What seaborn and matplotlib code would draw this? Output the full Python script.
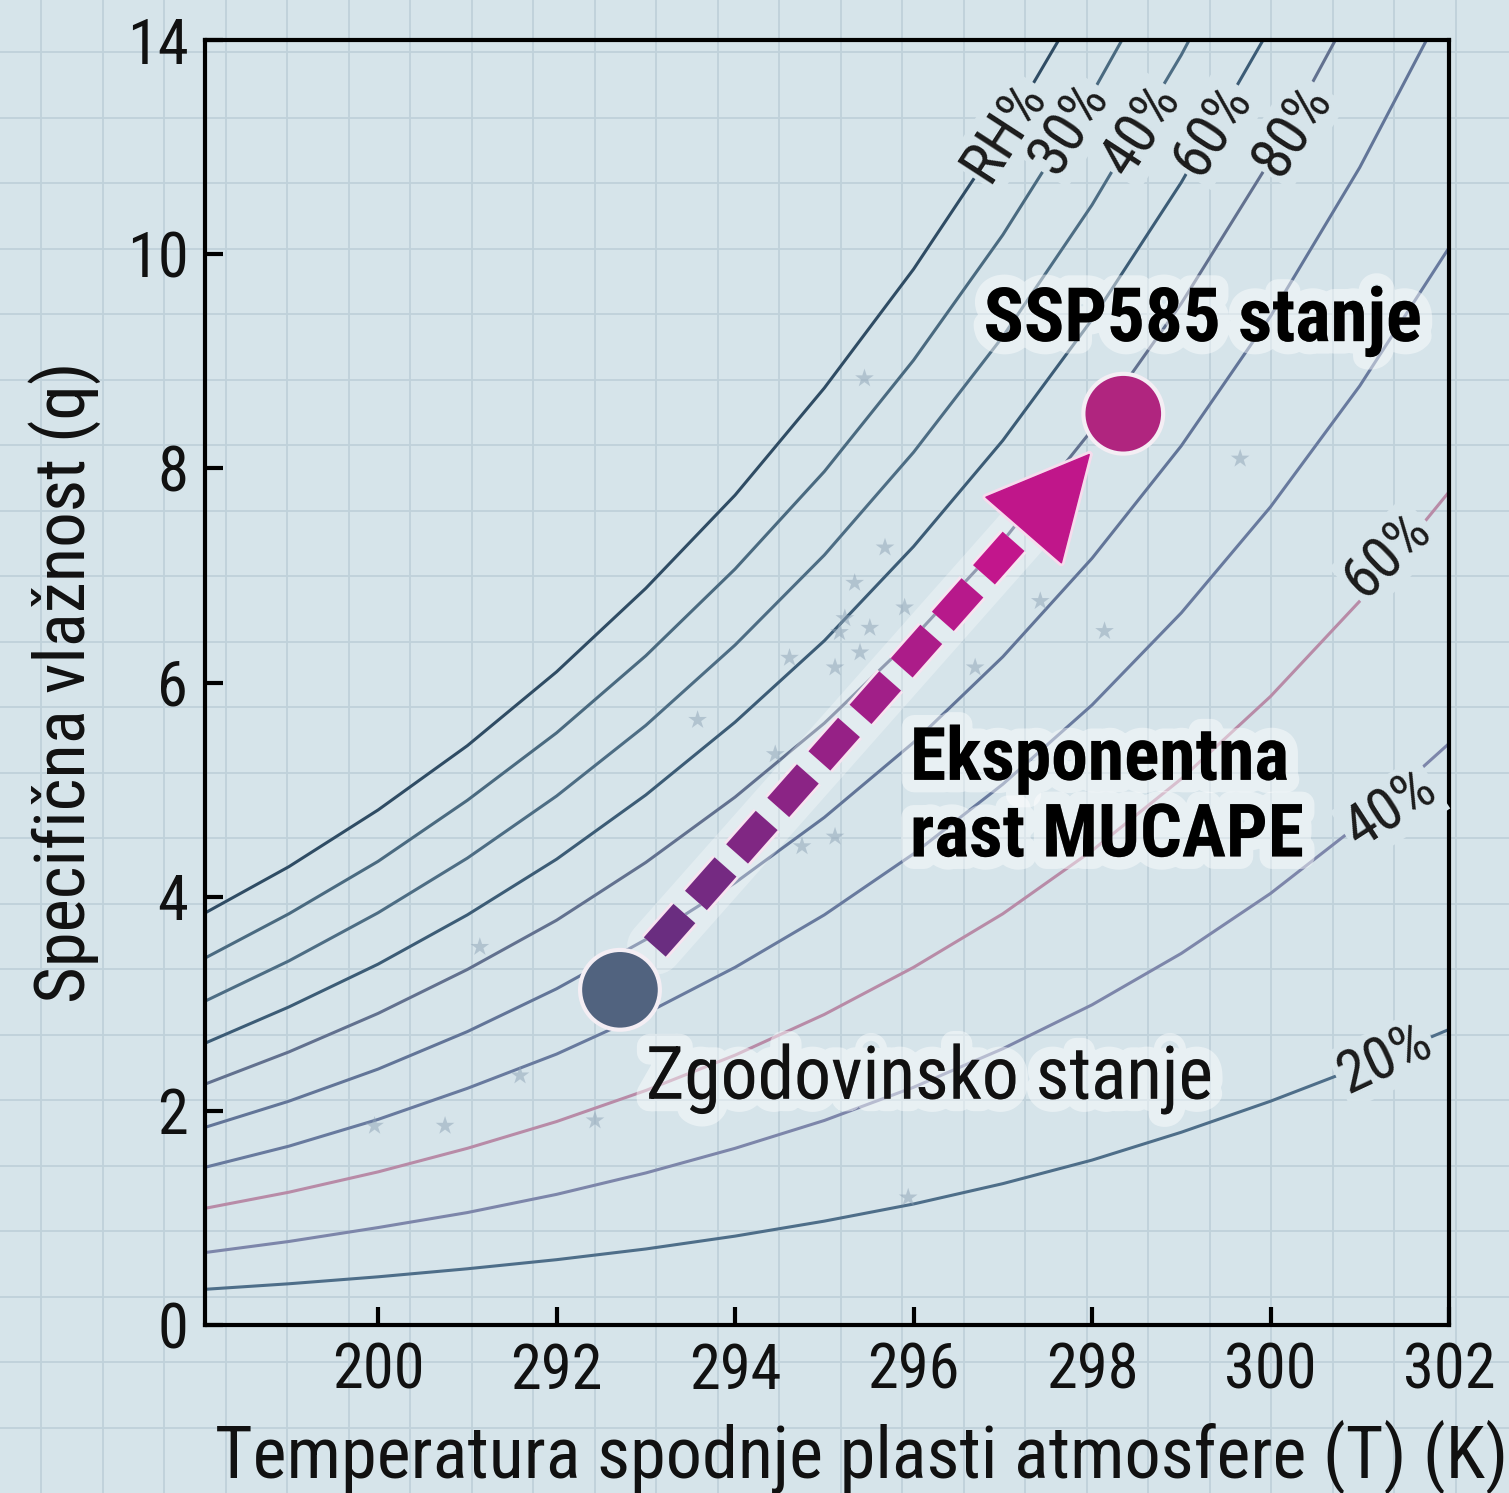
import numpy as np
import pandas as pd
import matplotlib
matplotlib.use("Agg")
import matplotlib.pyplot as plt
import matplotlib.patheffects as pe
from matplotlib import font_manager
from matplotlib.colors import LinearSegmentedColormap
import seaborn as sns

# temperature grid (K) on which the humidity curves were read
T_GRID = [288, 289, 290, 291, 292, 293, 294, 295, 296, 297, 298, 299, 300, 301, 302]

# specific humidity along each curve (top to bottom)
Q_A = [3.82, 4.28, 4.81, 5.41, 6.10, 6.88, 7.75, 8.75, 9.86, 11.11, 12.53]
Q_B = [3.40, 3.84, 4.33, 4.90, 5.53, 6.25, 7.06, 7.97, 9.01, 10.18, 11.50, 12.99]
Q_C = [3.00, 3.40, 3.85, 4.36, 4.94, 5.60, 6.35, 7.19, 8.15, 9.23, 10.46, 11.86, 13.43]
Q_D = [2.61, 2.97, 3.37, 3.83, 4.35, 4.95, 5.63, 6.39, 7.27, 8.26, 9.39, 10.67, 12.12]
Q_E = [2.23, 2.55, 2.91, 3.32, 3.78, 4.32, 4.93, 5.62, 6.42, 7.32, 8.36, 9.54, 10.88, 12.42]
Q_F = [1.83, 2.09, 2.39, 2.74, 3.14, 3.60, 4.13, 4.74, 5.44, 6.24, 7.16, 8.21, 9.42, 10.81, 12.40]
Q_G = [1.46, 1.67, 1.92, 2.21, 2.53, 2.91, 3.34, 3.83, 4.40, 5.05, 5.79, 6.65, 7.64, 8.77, 10.06]
Q_H = [1.08, 1.24, 1.43, 1.65, 1.90, 2.19, 2.52, 2.90, 3.34, 3.84, 4.43, 5.10, 5.87, 6.76, 7.78]
Q_I = [0.67, 0.78, 0.91, 1.05, 1.22, 1.42, 1.65, 1.91, 2.22, 2.58, 2.99, 3.47, 4.03, 4.68, 5.43]
Q_J = [0.33, 0.385, 0.45, 0.525, 0.61, 0.71, 0.83, 0.97, 1.13, 1.32, 1.54, 1.80, 2.09, 2.41, 2.76]

CURVES = ["A", "B", "C", "D", "E", "F", "G", "H", "I", "J"]
CURVE_Q = [Q_A, Q_B, Q_C, Q_D, Q_E, Q_F, Q_G, Q_H, Q_I, Q_J]
CURVE_COLORS = ["#2f4c64", "#4a6a80", "#4d6d84", "#3c5c76", "#62718f",
                "#627598", "#687a9e", "#b88ba7", "#7d86aa", "#4e6e89"]

# labels written on the curves
TOP_LABELS = ["RH%", "30%", "40%", "60%", "80%"]
TOP_LABEL_T = [297.02, 297.74, 298.55, 299.35, 300.25]
TOP_LABEL_Q = [11.15, 11.18, 11.16, 11.16, 11.16]
RIGHT_LABELS = ["60%", "40%", "20%"]
RIGHT_LABEL_T = [301.31, 301.34, 301.28]
RIGHT_LABEL_Q = [7.19, 4.81, 2.48]
RIGHT_LABEL_ROT = [44, 33, 25]

# faint background observations
OBS_T = [295.45, 295.68, 295.23, 295.17, 295.51, 295.90, 294.61, 295.12, 295.40,
         296.69, 293.58, 294.45, 298.14, 297.42, 299.66, 295.34, 291.14, 291.59,
         289.96, 290.75, 292.43, 295.94, 295.12, 294.75]
OBS_Q = [8.84, 7.26, 6.60, 6.47, 6.51, 6.70, 6.23, 6.14, 6.28,
         6.14, 5.65, 5.33, 6.48, 6.76, 8.09, 6.93, 3.53, 2.33,
         1.86, 1.86, 1.91, 1.19, 4.56, 4.47]

# the two states
STATE_NAMES = ["Zgodovinsko stanje", "SSP585 stanje"]
STATE_T = [292.71, 298.35]
STATE_Q = [3.13, 8.51]
STATE_COLORS = ["#51637f", "#b0257f"]

# arrow between them
ARROW_START = (293.10, 3.53)
ARROW_BASE = (297.25, 7.44)
ARROW_TIP = (297.98, 8.14)

X_TICKS = [290, 292, 294, 296, 298, 300, 302]
X_TICK_LABELS = ["200", "292", "294", "296", "298", "300", "302"]
Y_TICKS = [0, 2, 4, 6, 8, 10, 12]
Y_TICK_LABELS = ["0", "2", "4", "6", "8", "10", "14"]

sns.set_style("ticks")

# pick a condensed sans face if one is installed
names = {f.name for f in font_manager.fontManager.ttflist}
family = None
for cand in ["Roboto Condensed", "Liberation Sans Narrow", "Open Sans Condensed"]:
    if cand in names:
        family = cand
        break
if family is None:
    family = "DejaVu Sans"
    for f in font_manager.fontManager.ttflist:
        if f.name in ("Roboto", "Open Sans", "DejaVu Sans") and "ondensed" in str(f.stretch):
            family = f.name
            break
    plt.rcParams["font.stretch"] = "condensed"
plt.rcParams["font.family"] = [family, "DejaVu Sans"]

BG = "#d6e4ea"
GRID = "#bfd1da"

fig = plt.figure(figsize=(15.09, 14.93), dpi=100)
fig.patch.set_facecolor(BG)

# graph paper behind everything
bg = fig.add_axes([0, 0, 1, 1], zorder=-5)
bg.set_xlim(0, 1509)
bg.set_ylim(1493, 0)
bg.set_facecolor(BG)
bg.vlines(np.arange(41, 1509, 61.5), 0, 1493, color=GRID, lw=1.3)
bg.hlines(np.arange(52, 1493, 65.5), 0, 1509, color=GRID, lw=1.3)
bg.axis("off")

ax = fig.add_axes([205 / 1509, 1 - 1325 / 1493, 1244 / 1509, 1285 / 1493])
ax.set_facecolor("none")

rows = []
for name, qs in zip(CURVES, CURVE_Q):
    for t, q in zip(T_GRID, qs):
        rows.append({"T": t, "q": q, "curve": name})
curves = pd.DataFrame(rows)

sns.lineplot(data=curves, x="T", y="q", hue="curve", hue_order=CURVES,
             palette=dict(zip(CURVES, CURVE_COLORS)), estimator=None, sort=False,
             lw=2.2, legend=False, ax=ax)

obs = pd.DataFrame({"T": OBS_T, "q": OBS_Q})
sns.scatterplot(data=obs, x="T", y="q", marker="*", s=200, color="#8ea3b6",
                alpha=0.5, edgecolor="none", ax=ax, zorder=3)

glow = [pe.withStroke(linewidth=18, foreground=(1, 1, 1, 0.45))]
lab_style = dict(fontsize=43, color="#1b1b1b", ha="center", va="center",
                 rotation_mode="anchor", zorder=6,
                 bbox=dict(boxstyle="square,pad=0.05", fc=BG, ec="none"))
for lab, t, q in zip(TOP_LABELS, TOP_LABEL_T, TOP_LABEL_Q):
    ax.text(t, q, lab, rotation=57, **lab_style)
for lab, t, q, r in zip(RIGHT_LABELS, RIGHT_LABEL_T, RIGHT_LABEL_Q, RIGHT_LABEL_ROT):
    ax.text(t, q, lab, rotation=r, **lab_style)

# dashed arrow with a purple to magenta fade
cmap = LinearSegmentedColormap.from_list("arr", ["#6a2d80", "#c2168c"])
x0, y0 = ARROW_START
x1, y1 = ARROW_BASE
ax.plot([x0, x1], [y0, y1], color="white", alpha=0.3, lw=40,
        solid_capstyle="round", zorder=4)
n_dash = 9
for i in range(n_dash):
    a = i / n_dash
    b = a + 0.72 / n_dash
    xs = [x0 + (x1 - x0) * a, x0 + (x1 - x0) * b]
    ys = [y0 + (y1 - y0) * a, y0 + (y1 - y0) * b]
    ax.plot(xs, ys, color="#f7e4f0", lw=25, solid_capstyle="butt", zorder=5)
    ax.plot(xs, ys, color=cmap(i / (n_dash - 1)), lw=21, solid_capstyle="butt", zorder=5)
ax.annotate("", xy=ARROW_TIP, xytext=ARROW_BASE, zorder=5,
            arrowprops=dict(arrowstyle="-|>,head_length=7.2,head_width=3.6",
                            mutation_scale=10, color="#c0168a", lw=1,
                            shrinkA=0, shrinkB=0,
                            path_effects=[pe.withStroke(linewidth=5, foreground="#f6dced")]))

states = pd.DataFrame({"T": STATE_T, "q": STATE_Q, "state": STATE_NAMES})
sns.scatterplot(data=states, x="T", y="q", hue="state", hue_order=STATE_NAMES,
                palette=dict(zip(STATE_NAMES, STATE_COLORS)), s=3300,
                edgecolor="#f4eef4", linewidth=3, legend=False, ax=ax, zorder=7)

ax.text(293.0, 2.30, "Zgodovinsko stanje", fontsize=53, color="#111111",
        ha="left", va="center", path_effects=glow, zorder=8)
ax.text(299.24, 9.37, "SSP585 stanje", fontsize=54, fontweight="bold",
        color="#000000", ha="center", va="center", path_effects=glow, zorder=8)
ax.text(295.96, 4.92, "Eksponentna\nrast MUCAPE", fontsize=53, fontweight="bold",
        color="#000000", ha="left", va="center", linespacing=1.12,
        path_effects=glow, zorder=8)

ax.set_xlim(288.06, 302)
ax.set_ylim(0, 12)
ax.set_xticks(X_TICKS)
ax.set_xticklabels(X_TICK_LABELS)
ax.set_yticks(Y_TICKS)
ax.set_yticklabels(Y_TICK_LABELS)
ax.tick_params(direction="in", length=13, width=3, labelsize=45, color="black",
               labelcolor="#111111")
ax.tick_params(axis="x", pad=12)
ax.tick_params(axis="y", pad=12)
for s in ax.spines.values():
    s.set_linewidth(3)
    s.set_color("black")

ax.set_xlabel("Temperatura spodnje plasti atmosfere (T) (K)", fontsize=52,
              color="#111111")
ax.xaxis.set_label_coords(0.528, -0.073)
ax.set_ylabel("Specifična vlažnost (q)", fontsize=51, color="#111111")
ax.yaxis.set_label_coords(-0.084, 0.5)

fig.savefig("out.png", dpi=100, facecolor=fig.get_facecolor())
